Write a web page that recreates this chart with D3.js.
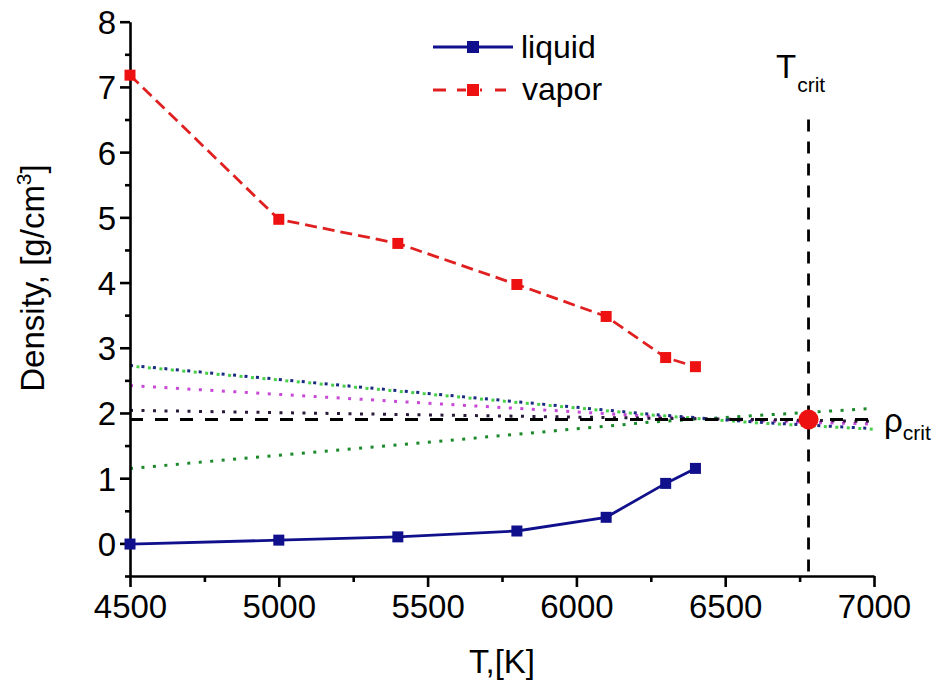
<!DOCTYPE html>
<html><head><meta charset="utf-8">
<script src="https://cdn.jsdelivr.net/npm/d3@7"></script>
<style>
body{margin:0;background:#fff;}
text{font-family:"Liberation Sans",Arial,sans-serif;fill:#000;}
</style></head>
<body><svg id="c" width="933" height="688"></svg>
<script>
// ---- data ----
const temps = [4500, 5000, 5400, 5800, 6100, 6300, 6400];
const liquid = [-0.01, 0.05, 0.10, 0.19, 0.40, 0.92, 1.15];
const vapor = [7.18, 4.97, 4.60, 3.97, 3.48, 2.85, 2.71];
const Tcrit = 6780;
const rhoCrit = 1.9;
const xTicks = [4500, 5000, 5500, 6000, 6500, 7000];
const yTicks = [0, 1, 2, 3, 4, 5, 6, 7, 8];
// fit curves (dotted)
const fitT = [4500, 5500, 6250, 6600, 7000];
const fitNavy = [2.73, 2.30, 1.98, 1.86, 1.76];
const fitLime = [2.72, 2.29, 1.97, 1.85, 1.75];
const fitMagenta = [2.42, 2.15, 1.95, 1.88, 1.83];
const fitBlack = [2.04, 1.97, 1.92, 1.90, 1.87];
const fitGreen = [1.15, 1.55, 1.86, 1.96, 2.07];

const svg = d3.select("#c");
const x = d3.scaleLinear().domain([4500, 7000]).range([130, 874]);
const y = d3.scaleLinear().domain([-0.5, 8]).range([576, 21.7]);

// dotted fit lines
const fits = [
  {v: fitMagenta, c: "#c848d8", off: 0},
  {v: fitBlack, c: "#2a1a3a", off: 0},
  {v: fitGreen, c: "#1a8a2a", off: 0},
  {v: fitNavy, c: "#1a2a80", off: 0},
  {v: fitLime, c: "#48d048", off: 5}
];
const line = d3.line().x(d => x(d[0])).y(d => y(d[1]));
fits.forEach(f => {
  svg.append("path").attr("d", line(fitT.map((t, i) => [t, f.v[i]])))
    .attr("fill", "none").attr("stroke", f.c).attr("stroke-width", 3)
    .attr("stroke-dasharray", "3,8.5").attr("stroke-dashoffset", f.off);
});

// critical dashed lines
svg.append("line").attr("x1", x(4500)).attr("x2", x(7000))
  .attr("y1", y(rhoCrit)).attr("y2", y(rhoCrit))
  .attr("stroke", "#000").attr("stroke-width", 3).attr("stroke-dasharray", "13,12");
svg.append("line").attr("x1", x(Tcrit)).attr("x2", x(Tcrit))
  .attr("y1", y(6.5)).attr("y2", y(-0.5))
  .attr("stroke", "#000").attr("stroke-width", 2.8).attr("stroke-dasharray", "12,10");

// axes
const gx = svg.append("g").attr("transform", "translate(0,576)");
gx.call(d3.axisBottom(x).tickValues(d3.range(4750, 7000, 500)).tickSize(6).tickFormat("").tickSizeOuter(0));
gx.call(g => g.select(".domain").remove());
const gx2 = svg.append("g").attr("transform", "translate(0,576)");
gx2.call(d3.axisBottom(x).tickValues(xTicks).tickSize(11).tickPadding(8).tickFormat(d3.format("d")).tickSizeOuter(0));
const gy = svg.append("g").attr("transform", "translate(130,0)");
gy.call(d3.axisLeft(y).tickValues(d3.range(-0.5, 8, 1)).tickSize(5).tickFormat("").tickSizeOuter(0));
gy.call(g => g.select(".domain").remove());
const gy2 = svg.append("g").attr("transform", "translate(130,0)");
gy2.call(d3.axisLeft(y).tickValues(yTicks).tickSize(10).tickPadding(4).tickFormat(d3.format("d")).tickSizeOuter(0));
svg.selectAll(".domain, .tick line").attr("stroke", "#000").attr("stroke-width", 2.6);
svg.selectAll(".tick text").style("font-size", "33px").style("font-family", "Liberation Sans, Arial, sans-serif").attr("fill", "#000");
gy2.selectAll(".tick text").attr("dy", "0.36em");

// series
const liqData = temps.map((t, i) => [t, liquid[i]]);
const vapData = temps.map((t, i) => [t, vapor[i]]);
svg.append("path").attr("d", line(liqData)).attr("fill", "none")
  .attr("stroke", "#10108c").attr("stroke-width", 2.8);
svg.append("path").attr("d", line(vapData)).attr("fill", "none")
  .attr("stroke", "#e02020").attr("stroke-width", 2.8).attr("stroke-dasharray", "12,6");
const ms = 11;
svg.selectAll(".lm").data(liqData).enter().append("rect")
  .attr("x", d => x(d[0]) - ms/2).attr("y", d => y(d[1]) - ms/2)
  .attr("width", ms).attr("height", ms).attr("fill", "#10108c");
svg.selectAll(".vm").data(vapData).enter().append("rect")
  .attr("x", d => x(d[0]) - ms/2).attr("y", d => y(d[1]) - ms/2)
  .attr("width", ms).attr("height", ms).attr("fill", "#ee1111");

// critical point
svg.append("circle").attr("cx", x(Tcrit)).attr("cy", y(rhoCrit)).attr("r", 10).attr("fill", "#ee1111");

// labels
svg.append("text").attr("x", 502).attr("y", 673).attr("text-anchor", "middle")
  .style("font-size", "33px").text("T,[K]");
const yl = svg.append("text").attr("transform", "translate(44,278) rotate(-90)")
  .attr("text-anchor", "middle").style("font-size", "33px");
yl.append("tspan").text("Density, [g/cm");
yl.append("tspan").attr("dy", -13).style("font-size", "21px").text("3");
yl.append("tspan").attr("dy", 13).text("]");

const tc = svg.append("text").attr("x", 776).attr("y", 78).style("font-size", "33px");
tc.append("tspan").text("T");
tc.append("tspan").attr("dy", 14).attr("dx", 1).style("font-size", "21px").text("crit");
const rc = svg.append("text").attr("x", 884).attr("y", 432).style("font-size", "33px");
rc.append("tspan").text("ρ");
rc.append("tspan").attr("dy", 8).style("font-size", "21px").text("crit");

// legend
const lg = svg.append("g");
lg.append("line").attr("x1", 433).attr("x2", 513).attr("y1", 47).attr("y2", 47)
  .attr("stroke", "#10108c").attr("stroke-width", 2.8);
lg.append("rect").attr("x", 473 - 6).attr("y", 47 - 6).attr("width", 12).attr("height", 12).attr("fill", "#10108c");
lg.append("line").attr("x1", 433).attr("x2", 513).attr("y1", 90).attr("y2", 90)
  .attr("stroke", "#e02020").attr("stroke-width", 2.8).attr("stroke-dasharray", "13,11,9,14,2");
lg.append("rect").attr("x", 473 - 6).attr("y", 90 - 6).attr("width", 12).attr("height", 12).attr("fill", "#ee1111");
lg.append("text").attr("x", 521).attr("y", 58).style("font-size", "32px").text("liquid");
lg.append("text").attr("x", 522).attr("y", 100).style("font-size", "32px").text("vapor");
</script></body></html>
